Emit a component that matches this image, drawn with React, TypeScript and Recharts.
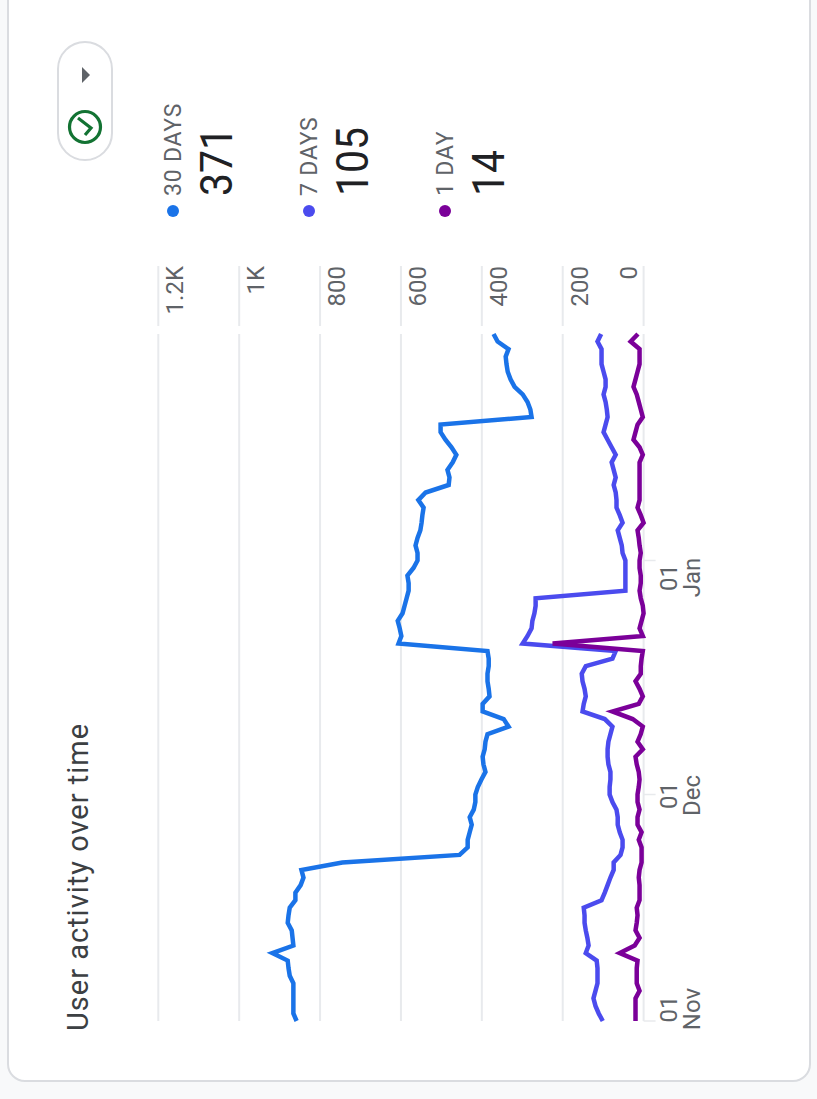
import { LineChart, Line, XAxis, YAxis, CartesianGrid } from 'recharts';

const months: [string, number][] = [['Nov', 30], ['Dec', 31], ['Jan', 31]];
const days = months.flatMap(([m, n]) =>
  Array.from({ length: n }, (_, i) => `${String(i + 1).padStart(2, '0')} ${m}`)
);

const thirtyDays = [
  858, 866, 866, 866, 866, 866, 875, 878, 880, 918, 866, 868, 870, 880, 878, 875, 861, 861, 848, 841,
  846, 745, 455, 435, 435, 430, 425, 430, 420, 416, 416, 410, 401, 391, 396, 398, 393, 391, 386, 334,
  346, 398, 398, 381, 383, 386, 386, 383, 383, 386, 606, 599, 603, 608, 596, 591, 586, 581, 581, 584,
  569, 559, 559, 564, 559, 552, 549, 547, 544, 557, 539, 482, 480, 485, 472, 463, 475, 490, 502, 502,
  277, 280, 287, 299, 319, 329, 336, 339, 341, 334, 361, 371,
];
const sevenDays = [
  101, 111, 119, 124, 119, 114, 114, 114, 116, 143, 136, 139, 143, 146, 146, 148, 104, 96, 89, 82,
  74, 74, 57, 52, 52, 59, 64, 64, 67, 77, 84, 84, 82, 82, 87, 89, 89, 87, 82, 77,
  96, 151, 148, 143, 146, 151, 153, 143, 77, 69, 299, 287, 277, 275, 270, 267, 267, 45, 45, 45,
  45, 45, 52, 54, 59, 64, 52, 59, 67, 67, 69, 74, 69, 74, 79, 69, 79, 89, 99, 94,
  89, 91, 94, 99, 94, 94, 99, 104, 104, 104, 114, 105,
];
const oneDay = [
  20, 20, 20, 20, 10, 17, 17, 17, 15, 59, 22, 10, 20, 17, 15, 17, 10, 10, 10, 12,
  10, 5, 5, 5, 12, 5, 15, 15, 10, 15, 15, 12, 10, 12, 17, 20, 2, 15, 7, 2,
  27, 77, 12, 2, 10, 20, 7, 7, 5, 2, 225, 2, 10, 5, 0, 2, 7, 10, 7, 7,
  10, 10, 7, 10, 12, 15, 0, 7, 15, 10, 10, 10, 10, 10, 10, 2, 10, 25, 20, 15,
  2, 7, 12, 17, 25, 20, 15, 10, 10, 10, 32, 14,
];

const valueTicks = [0, 200, 400, 600, 800, 1000, 1200];
const dateTicks = ['01 Nov', '01 Dec', '01 Jan'];

const legend = [
  { label: '30 DAYS', value: '371', color: '#1a73e8' },
  { label: '7 DAYS', value: '105', color: '#4b4bee' },
  { label: '1 DAY', value: '14', color: '#7b0099' },
];

const data = days.map((date, i) => ({
  date,
  thirty: thirtyDays[i],
  seven: sevenDays[i],
  one: oneDay[i],
}));

const font = 'Roboto, sans-serif';

const fmtValue = (v: number) => (v >= 1000 ? `${v / 1000}K` : String(v));

const ValueTick = ({ x, y, payload }: any) => {
  const v = payload.value;
  return (
    <g>
      <line x1={x + 8} x2={x + 68} y1={y} y2={y} stroke="#e8eaed" strokeWidth={2} />
      <text x={x + 68} y={v === 0 ? y - 7 : y + 25} textAnchor="end" fontFamily={font} fontSize={24} fill="#5f6368">
        {fmtValue(v)}
      </text>
    </g>
  );
};

const labelShift: Record<string, number> = { Nov: 12, Dec: -1, Jan: -17 };

const DateTick = ({ x, y, payload }: any) => {
  const [d, m] = payload.value.split(' ');
  return (
    <g>
      <line x1={x} x2={x} y1={y} y2={y + 12} stroke="#e8eaed" strokeWidth={1.5} />
      <text x={x + labelShift[m]} y={y + 33} textAnchor="middle" fontFamily={font} fontSize={24} fill="#5f6368">
        {d}
      </text>
      <text x={x + labelShift[m]} y={y + 56} textAnchor="middle" fontFamily={font} fontSize={24} fill="#5f6368">
        {m}
      </text>
    </g>
  );
};

export default function App() {
  return (
    <div style={{ position: 'fixed', left: 0, top: 0, width: 817, height: 1099, overflow: 'hidden', background: '#f8f9fa' }}>
      {/* the whole card is turned on its side */}
      <div
        style={{
          position: 'absolute',
          left: 0,
          top: 0,
          width: 1099,
          height: 817,
          transformOrigin: '0 0',
          transform: 'translate(0, 1099px) rotate(-90deg)',
        }}
      >
        <div
          style={{
            position: 'absolute',
            left: 17,
            top: 7,
            width: 1100,
            height: 804,
            boxSizing: 'border-box',
            background: '#fff',
            border: '2px solid #dadce0',
            borderRadius: 18,
          }}
        />
        <div style={{ position: 'absolute', left: 68, top: 61, fontFamily: font, fontSize: 29, letterSpacing: 1, lineHeight: '34px', color: '#3c4043', whiteSpace: 'nowrap' }}>
          User activity over time
        </div>

        {legend.map((s, i) => (
          <div key={s.label} style={{ position: 'absolute', left: 882, top: 160 + i * 136, width: 200, height: 110 }}>
            <span style={{ position: 'absolute', left: 0, top: 7, width: 12, height: 12, borderRadius: 6, background: s.color }} />
            <span style={{ position: 'absolute', left: 21, top: 0, fontFamily: font, fontSize: 23, letterSpacing: 0.8, lineHeight: '28px', color: '#5f6368', whiteSpace: 'nowrap' }}>
              {s.label}
            </span>
            <span style={{ position: 'absolute', left: 21, top: 31, fontFamily: font, fontSize: 44, lineHeight: '52px', color: '#202124', whiteSpace: 'nowrap', transformOrigin: '0 50%', transform: 'scaleX(0.93)' }}>
              {s.value}
            </span>
          </div>
        ))}

        <div style={{ position: 'absolute', left: 0, top: 0 }}>
          <LineChart
            width={1099}
            height={817}
            data={data}
            margin={{ left: 78, right: 254, top: 158.3, bottom: 113.4 }}
          >
            <CartesianGrid vertical={false} stroke="#e8eaed" strokeWidth={2} />
            <XAxis
              dataKey="date"
              ticks={dateTicks}
              interval={0}
              height={60}
              axisLine={false}
              tickLine={false}
              tickSize={0}
              tickMargin={0}
              tick={<DateTick />}
            />
            <YAxis
              orientation="right"
              domain={[0, 1200]}
              ticks={valueTicks}
              width={80}
              axisLine={false}
              tickLine={false}
              tickSize={0}
              tickMargin={0}
              tick={<ValueTick />}
            />
            <Line dataKey="thirty" type="linear" stroke="#1a73e8" strokeWidth={4.5} dot={false} isAnimationActive={false} />
            <Line dataKey="seven" type="linear" stroke="#4b4bee" strokeWidth={4.5} dot={false} isAnimationActive={false} />
            <Line dataKey="one" type="linear" stroke="#7b0099" strokeWidth={4.5} dot={false} isAnimationActive={false} />
          </LineChart>
        </div>
      </div>

      {/* status pill, drawn upright */}
      <svg width={817} height={1099} style={{ position: 'absolute', left: 0, top: 0, pointerEvents: 'none' }}>
        <rect x={58} y={42} width={54} height={118} rx={27} fill="#fff" stroke="#dadce0" strokeWidth={2} />
        <polygon points="82,67 90,75 82,83" fill="#5f6368" />
        <circle cx={85} cy={127} r={15.5} fill="none" stroke="#137333" strokeWidth={3.2} />
        <polyline points="78,118 91,128 85,135" fill="none" stroke="#137333" strokeWidth={3.2} />
      </svg>
    </div>
  );
}
